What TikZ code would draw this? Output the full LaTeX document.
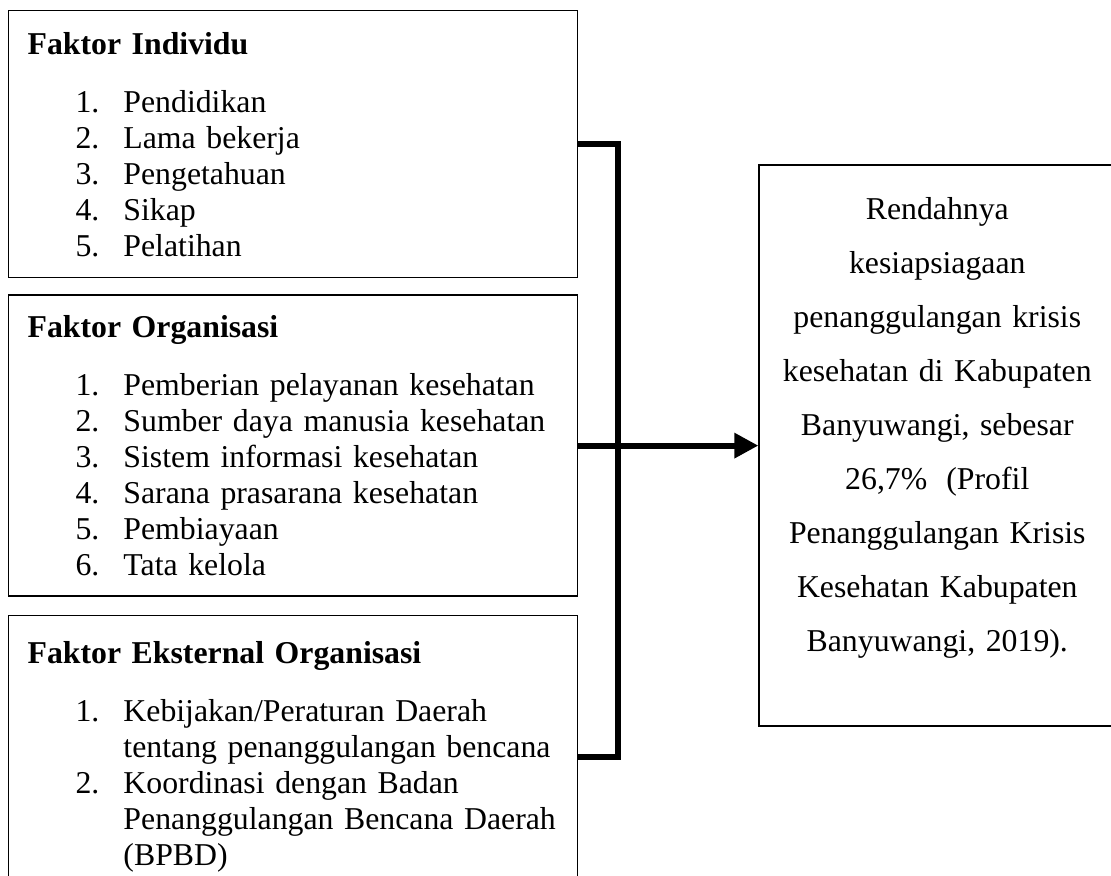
\documentclass[tikz,border=0pt]{standalone}
\usepackage{fontspec}
\setmainfont{Liberation Serif}
\usepackage{tikz}
\usetikzlibrary{arrows.meta,positioning,calc}
\tikzset{
  faktor/.style={draw, line width=0.5pt, align=left, text width=193.9pt, inner xsep=6.9pt, inner ysep=0pt, minimum height=#1, font=\fontsize{11.6}{13.14}\selectfont},
  hasil/.style={draw, line width=0.6pt, align=center, text width=128pt, inner xsep=1pt, inner ysep=0pt, minimum height=204.8pt, font=\fontsize{11.6}{19.7}\selectfont},
  bus/.style={line width=2.2pt, line join=miter},
  arr/.style={bus, -{Triangle[length=8.8pt, width=8.8pt]}},
}
\newcommand{\butir}[2]{\leavevmode\hbox to 35pt{\hskip 17.5pt #1\hfil}\mbox{#2}}
\newcommand{\lanjut}[1]{\leavevmode\hbox to 35pt{\hfil}\mbox{#1}}

\begin{document}
\begin{tikzpicture}[x=0.365pt, y=-0.365pt]
  \useasboundingbox (0,0) rectangle (1111,876);
  % faktor boxes on the left
  \node[faktor=97.5pt, anchor=north west] (ind) at (8,10) {\textbf{Faktor Individu}\\[8pt]
    \butir{1.}{Pendidikan}\\
    \butir{2.}{Lama bekerja}\\
    \butir{3.}{Pengetahuan}\\
    \butir{4.}{Sikap}\\
    \butir{5.}{Pelatihan}};
  \node[faktor=109.9pt, below=5.8pt of ind] (org) {\textbf{Faktor Organisasi}\\[8pt]
    \butir{1.}{Pemberian pelayanan kesehatan}\\
    \butir{2.}{Sumber daya manusia kesehatan}\\
    \butir{3.}{Sistem informasi kesehatan}\\
    \butir{4.}{Sarana prasarana kesehatan}\\
    \butir{5.}{Pembiayaan}\\
    \butir{6.}{Tata kelola}};
  \node[faktor=102.9pt, below=6.6pt of org] (eks) {\textbf{Faktor Eksternal Organisasi}\\[8pt]
    \butir{1.}{Kebijakan/Peraturan Daerah}\\
    \lanjut{tentang penanggulangan bencana}\\
    \butir{2.}{Koordinasi dengan Badan}\\
    \lanjut{Penanggulangan Bencana Daerah}\\
    \lanjut{(BPBD)}};
  % outcome box
  \node[hasil, right=65.7pt of org] (hsl) {Rendahnya\\
    kesiapsiagaan\\
    penanggulangan krisis\\
    kesehatan di Kabupaten\\
    Banyuwangi, sebesar\\
    26,7\%\hspace{0.6em}(Profil\\
    Penanggulangan Krisis\\
    Kesehatan Kabupaten\\
    Banyuwangi, 2019).\\[-4pt]\mbox{}};
  % connectors
  \coordinate (simpul) at ($(ind.east)+(40,0)$);
  \draw[bus] (ind.east) -- (simpul) |- (eks.east);
  \draw[arr] (org.east) -- (hsl.west);
\end{tikzpicture}
\end{document}
